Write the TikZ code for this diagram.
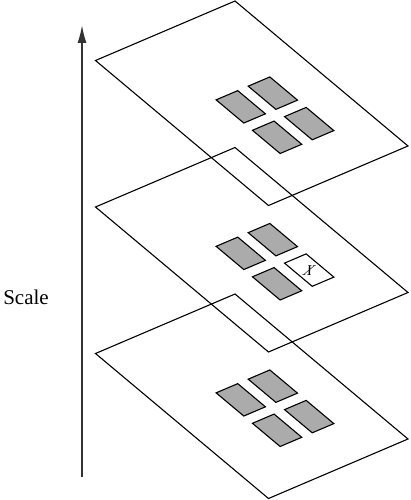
\documentclass[tikz,border=0pt]{standalone}
\usepackage{fontspec}
\setmainfont{Liberation Serif}
\usetikzlibrary{arrows.meta}

\tikzset{
  plane/.style={draw=black, line width=1.1pt, line join=miter},
  tile/.style={draw=black, line width=1.1pt, fill=black!33},
  freetile/.style={draw=black, line width=1.1pt, fill=white},
}
\newcommand{\tileat}[3]{\draw[#1] (#2,#3) -- ++(0.16,0) -- ++(0,0.155) -- ++(-0.16,0) -- cycle;}

\begin{document}
\begin{tikzpicture}[x=1pt,y=-1pt]
\useasboundingbox (0,0) rectangle (410,500);
\coordinate (low) at (82,477);
\coordinate (high) at (82,25);
\draw[-{Latex[length=18pt,width=9pt]}, line width=1.6pt, black!80] (low) -- (high);
\node[font=\fontsize{21}{24}\selectfont] (scale) at (26,297) {Scale};
% three layers, same tiles, one left open in the middle
\foreach \py/\kind in {1/tile,147.5/freetile,294/tile}{
  \begin{scope}[shift={(235pt,-\py*1pt)}, x={(173pt,-145pt)}, y={(-139.5pt,-59.5pt)}]
    \draw[plane] (0,0) -- (1,0) -- (1,1) -- (0,1) -- cycle;
    \tileat{tile}{0.415}{0.495}
    \tileat{tile}{0.415}{0.265}
    \tileat{tile}{0.625}{0.495}
    \tileat{\kind}{0.625}{0.265}
  \end{scope}
}
\begin{scope}[shift={(235pt,-147.5pt)}, x={(173pt,-145pt)}, y={(-139.5pt,-59.5pt)}]
  \node[font=\fontsize{15}{15}\selectfont\itshape, xslant=0.4, inner sep=0pt] (missing) at (0.705,0.3425) {X};
\end{scope}
\end{tikzpicture}
\end{document}
